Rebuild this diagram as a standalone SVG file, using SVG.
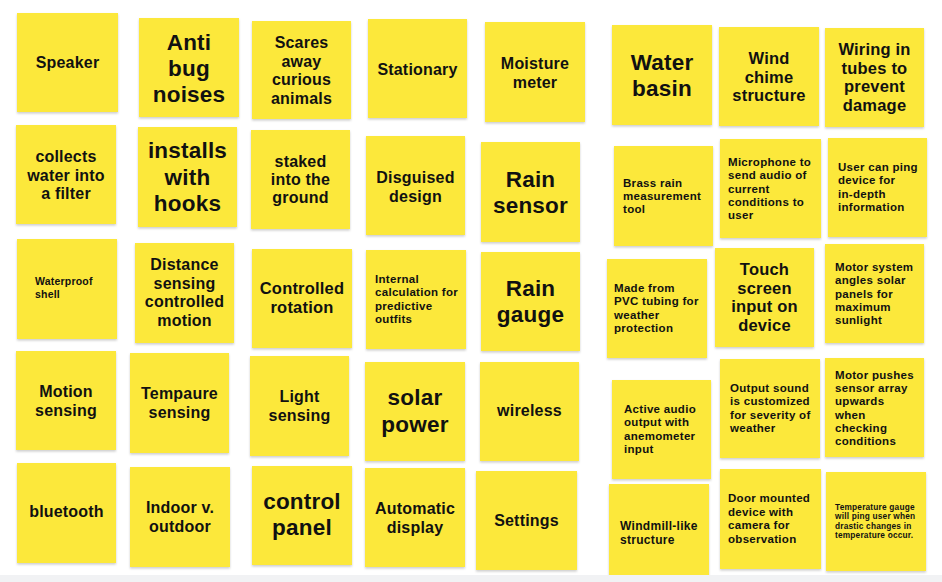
<svg xmlns="http://www.w3.org/2000/svg" width="942" height="582" viewBox="0 0 942 582">
<defs>
<filter id="sh" x="-10%" y="-10%" width="120%" height="125%">
<feDropShadow dx="0" dy="1.5" stdDeviation="1" flood-color="#000" flood-opacity="0.2"/>
</filter>
<style>
.n{fill:#fce83b;filter:url(#sh)}
text{font-family:"Liberation Sans",Arial,sans-serif;font-weight:700;fill:#111}
.m{font-size:16px;text-anchor:middle;letter-spacing:0.2px}
.l{font-size:22.5px;text-anchor:middle;letter-spacing:0.2px}
.s{font-size:11.5px;letter-spacing:0.3px}
.xs{font-size:10.5px;letter-spacing:0.2px}
.xxs{font-size:8.3px;letter-spacing:0.2px}
</style>
</defs>
<rect x="0" y="0" width="942" height="582" fill="#ffffff"/>
<g id="notes">
<g id="speaker"><rect class="n" x="17" y="13" width="101" height="99"/><text class="m"><tspan x="67.5" y="68">Speaker</tspan></text></g>
<g id="antibug"><rect class="n" x="139" y="18" width="100" height="99"/><text class="l"><tspan x="189" y="50">Anti</tspan><tspan x="189" y="76">bug</tspan><tspan x="189" y="102">noises</tspan></text></g>
<g id="scares"><rect class="n" x="252" y="21" width="99" height="98"/><text class="m"><tspan x="301.5" y="48">Scares</tspan><tspan x="301.5" y="66.7">away</tspan><tspan x="301.5" y="85.4">curious</tspan><tspan x="301.5" y="104">animals</tspan></text></g>
<g id="stationary"><rect class="n" x="368" y="19" width="99" height="99"/><text class="m"><tspan x="417.5" y="75">Stationary</tspan></text></g>
<g id="moisture"><rect class="n" x="485" y="22" width="100" height="100"/><text class="m"><tspan x="535" y="69">Moisture</tspan><tspan x="535" y="88">meter</tspan></text></g>
<g id="waterbasin"><rect class="n" x="612" y="25" width="100" height="100"/><text class="l"><tspan x="662" y="70">Water</tspan><tspan x="662" y="96">basin</tspan></text></g>
<g id="windchime"><rect class="n" x="719" y="27" width="100" height="99"/><text class="m" style="font-size:16.5px"><tspan x="769" y="64">Wind</tspan><tspan x="769" y="82.5">chime</tspan><tspan x="769" y="101">structure</tspan></text></g>
<g id="wiring"><rect class="n" x="825" y="28" width="99" height="99"/><text class="m" style="font-size:16.5px"><tspan x="874.5" y="55">Wiring in</tspan><tspan x="874.5" y="73.7">tubes to</tspan><tspan x="874.5" y="92.4">prevent</tspan><tspan x="874.5" y="111">damage</tspan></text></g>

<g id="collects"><rect class="n" x="16" y="125" width="100" height="99"/><text class="m"><tspan x="66" y="162">collects</tspan><tspan x="66" y="180.5">water into</tspan><tspan x="66" y="199">a filter</tspan></text></g>
<g id="installs"><rect class="n" x="138" y="127" width="99" height="100"/><text class="l"><tspan x="187.5" y="158">installs</tspan><tspan x="187.5" y="184.5">with</tspan><tspan x="187.5" y="211">hooks</tspan></text></g>
<g id="staked"><rect class="n" x="251" y="130" width="99" height="99"/><text class="m"><tspan x="300.5" y="167">staked</tspan><tspan x="300.5" y="185.2">into the</tspan><tspan x="300.5" y="203.4">ground</tspan></text></g>
<g id="disguised"><rect class="n" x="366" y="136" width="99" height="99"/><text class="m"><tspan x="415.5" y="183">Disguised</tspan><tspan x="415.5" y="202">design</tspan></text></g>
<g id="rainsensor"><rect class="n" x="481" y="142" width="99" height="100"/><text class="l"><tspan x="530.5" y="186.5">Rain</tspan><tspan x="530.5" y="212.5">sensor</tspan></text></g>
<g id="brass"><rect class="n" x="614" y="146" width="99" height="100"/><text class="s"><tspan x="623" y="187">Brass rain</tspan><tspan x="623" y="200">measurement</tspan><tspan x="623" y="213">tool</tspan></text></g>
<g id="microphone"><rect class="n" x="720" y="139" width="101" height="99"/><text class="s"><tspan x="728" y="166">Microphone to</tspan><tspan x="728" y="179.3">send audio of</tspan><tspan x="728" y="192.6">current</tspan><tspan x="728" y="206">conditions to</tspan><tspan x="728" y="219.3">user</tspan></text></g>
<g id="ping"><rect class="n" x="828" y="138" width="99" height="99"/><text class="s"><tspan x="838" y="171">User can ping</tspan><tspan x="838" y="184.3">device for</tspan><tspan x="838" y="197.6">in-depth</tspan><tspan x="838" y="211">information</tspan></text></g>

<g id="waterproof"><rect class="n" x="17" y="239" width="100" height="100"/><text class="xs"><tspan x="35" y="285">Waterproof</tspan><tspan x="35" y="298">shell</tspan></text></g>
<g id="distance"><rect class="n" x="135" y="243" width="99" height="100"/><text class="m"><tspan x="184.5" y="270">Distance</tspan><tspan x="184.5" y="288.7">sensing</tspan><tspan x="184.5" y="307.4">controlled</tspan><tspan x="184.5" y="326">motion</tspan></text></g>
<g id="rotation"><rect class="n" x="252" y="249" width="100" height="99"/><text class="m" style="font-size:16.5px"><tspan x="302" y="294">Controlled</tspan><tspan x="302" y="313">rotation</tspan></text></g>
<g id="internal"><rect class="n" x="366" y="250" width="100" height="99"/><text class="s"><tspan x="375" y="283">Internal</tspan><tspan x="375" y="296.3">calculation for</tspan><tspan x="375" y="309.6">predictive</tspan><tspan x="375" y="323">outfits</tspan></text></g>
<g id="raingauge"><rect class="n" x="481" y="252" width="99" height="99"/><text class="l"><tspan x="530.5" y="296">Rain</tspan><tspan x="530.5" y="322">gauge</tspan></text></g>
<g id="pvc"><rect class="n" x="607" y="259" width="100" height="99"/><text class="s"><tspan x="614" y="292">Made from</tspan><tspan x="614" y="305.3">PVC tubing for</tspan><tspan x="614" y="318.6">weather</tspan><tspan x="614" y="332">protection</tspan></text></g>
<g id="touch"><rect class="n" x="715" y="248" width="99" height="99"/><text class="m" style="font-size:16.5px"><tspan x="764.5" y="275">Touch</tspan><tspan x="764.5" y="293.7">screen</tspan><tspan x="764.5" y="312.4">input on</tspan><tspan x="764.5" y="331">device</tspan></text></g>
<g id="motorsystem"><rect class="n" x="825" y="244" width="99" height="99"/><text class="s"><tspan x="835" y="271">Motor system</tspan><tspan x="835" y="284.3">angles solar</tspan><tspan x="835" y="297.6">panels for</tspan><tspan x="835" y="311">maximum</tspan><tspan x="835" y="324.3">sunlight</tspan></text></g>

<g id="motion"><rect class="n" x="16" y="351" width="100" height="99"/><text class="m"><tspan x="66" y="397">Motion</tspan><tspan x="66" y="415.5">sensing</tspan></text></g>
<g id="tempaure"><rect class="n" x="130" y="353" width="99" height="100"/><text class="m"><tspan x="179.5" y="399">Tempaure</tspan><tspan x="179.5" y="418">sensing</tspan></text></g>
<g id="light"><rect class="n" x="250" y="356" width="99" height="100"/><text class="m"><tspan x="299.5" y="402">Light</tspan><tspan x="299.5" y="421">sensing</tspan></text></g>
<g id="solar"><rect class="n" x="365" y="362" width="100" height="99"/><text class="l"><tspan x="415" y="405">solar</tspan><tspan x="415" y="431.5">power</tspan></text></g>
<g id="wireless"><rect class="n" x="480" y="362" width="99" height="99"/><text class="m"><tspan x="529.5" y="416">wireless</tspan></text></g>
<g id="activeaudio"><rect class="n" x="612" y="380" width="99" height="99"/><text class="s"><tspan x="624" y="413">Active audio</tspan><tspan x="624" y="426.3">output with</tspan><tspan x="624" y="439.6">anemometer</tspan><tspan x="624" y="453">input</tspan></text></g>
<g id="outputsound"><rect class="n" x="720" y="359" width="100" height="99"/><text class="s"><tspan x="730" y="392">Output sound</tspan><tspan x="730" y="405.3">is customized</tspan><tspan x="730" y="418.6">for severity of</tspan><tspan x="730" y="432">weather</tspan></text></g>
<g id="motorpushes"><rect class="n" x="825" y="358" width="99" height="99"/><text class="s"><tspan x="835" y="379">Motor pushes</tspan><tspan x="835" y="392.2">sensor array</tspan><tspan x="835" y="405.4">upwards</tspan><tspan x="835" y="418.6">when</tspan><tspan x="835" y="431.8">checking</tspan><tspan x="835" y="445">conditions</tspan></text></g>

<g id="bluetooth"><rect class="n" x="17" y="463" width="99" height="100"/><text class="m"><tspan x="66.5" y="517">bluetooth</tspan></text></g>
<g id="indoor"><rect class="n" x="130" y="467" width="100" height="100"/><text class="m"><tspan x="180" y="513">Indoor v.</tspan><tspan x="180" y="532">outdoor</tspan></text></g>
<g id="controlpanel"><rect class="n" x="252" y="466" width="100" height="99"/><text class="l"><tspan x="302" y="509">control</tspan><tspan x="302" y="535">panel</tspan></text></g>
<g id="automatic"><rect class="n" x="365" y="468" width="100" height="99"/><text class="m"><tspan x="415" y="514">Automatic</tspan><tspan x="415" y="533">display</tspan></text></g>
<g id="settings"><rect class="n" x="476" y="471" width="101" height="99"/><text class="m"><tspan x="526.5" y="526">Settings</tspan></text></g>
<g id="windmill"><rect class="n" x="609" y="484" width="100" height="99"/><text class="s" style="font-size:12px"><tspan x="620" y="530">Windmill-like</tspan><tspan x="620" y="543.5">structure</tspan></text></g>
<g id="door"><rect class="n" x="720" y="469" width="101" height="100"/><text class="s"><tspan x="728" y="502">Door mounted</tspan><tspan x="728" y="515.6">device with</tspan><tspan x="728" y="529.3">camera for</tspan><tspan x="728" y="543">observation</tspan></text></g>
<g id="tempgauge"><rect class="n" x="826" y="472" width="100" height="99"/><text class="xxs"><tspan x="835" y="510">Temperature gauge</tspan><tspan x="835" y="519.3">will ping user when</tspan><tspan x="835" y="528.7">drastic changes in</tspan><tspan x="835" y="538">temperature occur.</tspan></text></g>
</g>
<g id="connectors"></g>
<rect x="0" y="575" width="942" height="7" fill="#f1f2f4"/>
</svg>
